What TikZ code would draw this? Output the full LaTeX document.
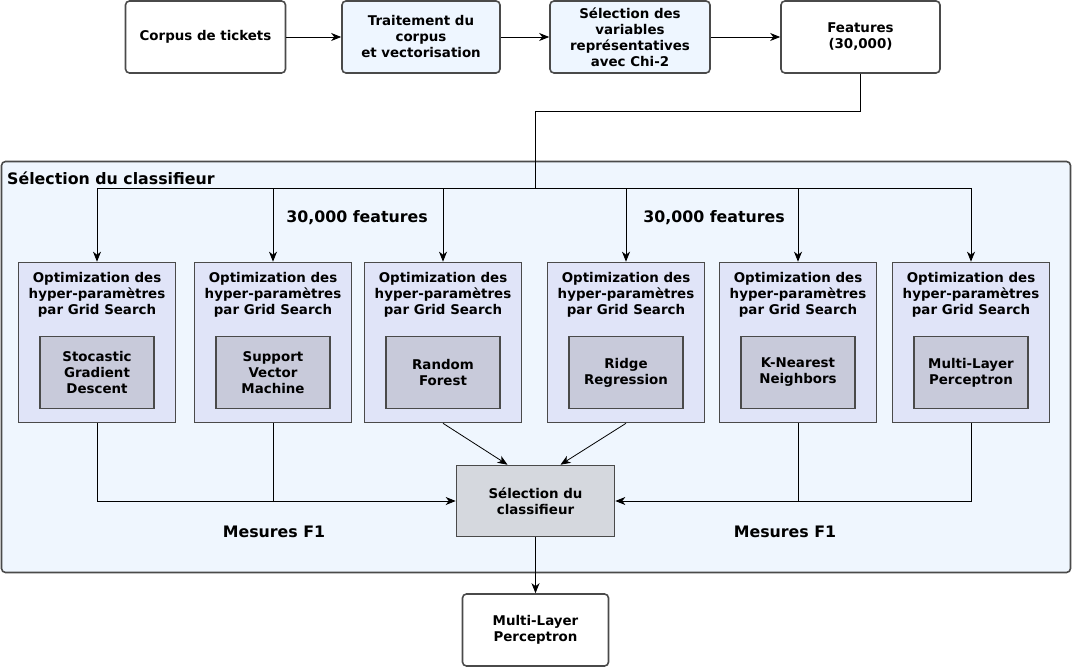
\documentclass[tikz,border=0pt]{standalone}
\usepackage{fontspec}
\setmainfont{DejaVu Sans}
\usetikzlibrary{arrows.meta}
\definecolor{boxline}{HTML}{4A4A4A}
\definecolor{paleblue}{HTML}{EEF6FF}
\definecolor{contfill}{HTML}{EFF6FE}
\definecolor{optfill}{HTML}{E0E4F8}
\definecolor{innerfill}{HTML}{C8CADA}
\definecolor{selfill}{HTML}{D5D8DE}
\tikzset{
  x=1pt, y=-1pt,
  every node/.style={font=\fontsize{13.4}{16}\selectfont\bfseries, align=center, inner sep=0pt},
  topbox/.style={draw=boxline, line width=1.6pt, rounded corners=4pt, fill=white, minimum width=159pt, minimum height=72pt},
  bluebox/.style={topbox, fill=paleblue},
  optbox/.style={draw=boxline, line width=1.6pt, fill=optfill, minimum width=157pt, minimum height=160pt},
  innerbox/.style={draw=boxline, line width=1.6pt, fill=innerfill, minimum width=114pt, minimum height=72pt},
  selbox/.style={draw=boxline, line width=1.6pt, fill=selfill, minimum width=158pt, minimum height=71pt},
  arr/.style={draw=black, line width=0.8pt, -{Stealth[length=10pt,width=8pt,inset=3pt]}},
  ln/.style={draw=black, line width=0.8pt},
  biglabel/.style={font=\fontsize{15.8}{18}\selectfont\bfseries},
}
\begin{document}
\begin{tikzpicture}
\useasboundingbox (0,0) rectangle (1072,668);
% container
\node[draw=boxline, line width=1.6pt, rounded corners=4pt, fill=contfill, minimum width=1069pt, minimum height=411pt] (cont) at (536,367) {};
\node[anchor=west, font=\fontsize{15.8}{18}\selectfont\bfseries] (title) at (7,178) {Sélection du classifieur};
% top row
\node[topbox, minimum width=160pt] (corpus) at (205.5,37) {Corpus de tickets};
\node[bluebox, minimum width=158pt] (trait) at (421,37) {Traitement du\\corpus\\et vectorisation};
\node[bluebox, minimum width=160pt] (chi) at (630,37) {Sélection des\\variables\\représentatives\\avec Chi-2};
\node[topbox, minimum width=159pt] (feat) at (860.5,37) {Features\\(30,000)};
\draw[arr] (corpus) -- (trait);
\draw[arr] (trait) -- (chi);
\draw[arr] (chi) -- (feat);
% split point
\coordinate (split) at (535,188);
\draw[ln] (feat.south) -- ++(0,38) -| (split);
% optimization boxes
\foreach \i/\x/\lab in {1/97/{Stocastic\\Gradient\\Descent},2/273/{Support\\Vector\\Machine},3/443/{Random\\Forest},4/626/{Ridge\\Regression},5/798/{K-Nearest\\Neighbors},6/971/{Multi-Layer\\Perceptron}}{
  \node[optbox] (o\i) at (\x,342.5) {};
  \node (t\i) at (\x,294.5) {Optimization des\\hyper-paramètres\\par Grid Search};
  \node[innerbox] (in\i) at (\x,372.5) {\lab};
  \draw[arr] (split) -| (o\i.north);
}
\node[biglabel] (f1) at (357,218) {30,000 features};
\node[biglabel] (f2) at (714,218) {30,000 features};
% selection
\node[selbox] (sel) at (535.5,501) {Sélection du\\classifieur};
\draw[arr] (o1.south) |- (sel.west);
\draw[ln] (o2.south) -- (o2.south |- sel.west);
\draw[arr] (o6.south) |- (sel.east);
\draw[ln] (o5.south) -- (o5.south |- sel.east);
\draw[arr] (o3.south) -- ([xshift=-28pt]sel.north);
\draw[arr] (o4.south) -- ([xshift=25pt]sel.north);
\node[biglabel] (m1) at (274,532) {Mesures F1};
\node[biglabel] (m2) at (785,532) {Mesures F1};
% result
\node[topbox, minimum width=146pt, minimum height=72pt] (mlp) at (535.5,630) {Multi-Layer\\Perceptron};
\draw[arr] (sel.south) -- (mlp.north);
\end{tikzpicture}
\end{document}
